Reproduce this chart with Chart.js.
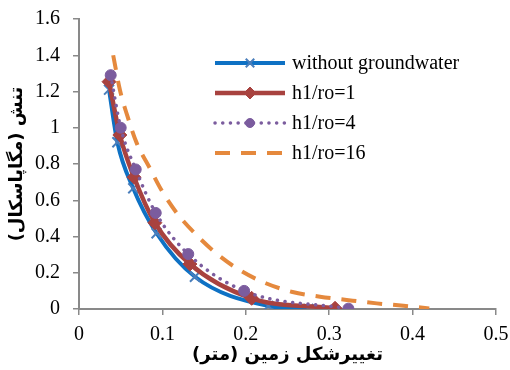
<!DOCTYPE html>
<html>
<head>
<meta charset="utf-8">
<script src="https://cdn.jsdelivr.net/npm/chart.js@4/dist/chart.umd.min.js"></script>
<style>
  body { margin: 0; background: #fff; }
  #wrap { width: 510px; height: 370px; }
</style>
</head>
<body>
<div id="wrap"><canvas id="stress-chart"></canvas></div>
<script>
// values (x = ground deformation in m, y = stress in MPa)
const seriesNames = ['without groundwater', 'h1/ro=1', 'h1/ro=4', 'h1/ro=16'];

const noWaterX = [0.036, 0.046, 0.065, 0.093, 0.139, 0.227, 0.275];
const noWaterY = [1.21, 0.92, 0.666, 0.418, 0.178, 0.017, 0.0];

const ratio1X = [0.036, 0.049, 0.066, 0.091, 0.133, 0.207, 0.307];
const ratio1Y = [1.254, 0.96, 0.727, 0.476, 0.248, 0.059, 0.004];

const ratio4X = [0.038, 0.050, 0.068, 0.092, 0.131, 0.198, 0.323];
const ratio4Y = [1.29, 1.0, 0.77, 0.53, 0.303, 0.10, 0.002];

const ratio16X = [0.041, 0.049, 0.058, 0.069, 0.085, 0.100, 0.119, 0.142, 0.167, 0.194, 0.224, 0.256, 0.289, 0.321, 0.357, 0.389, 0.42];
const ratio16Y = [1.40, 1.21, 1.065, 0.918, 0.776, 0.647, 0.519, 0.403, 0.298, 0.211, 0.142, 0.094, 0.068, 0.05, 0.031, 0.018, 0.003];

const xTitle = 'تغییرشکل زمین (متر)\u200F';
const yTitle = 'تنش (مگاپاسکال)\u200F';

function pairs(xs, ys) {
  return xs.map((x, i) => ({ x: x, y: ys[i] }));
}

// excel style labels: 1 not 1.0
const tickText = (v) => String(Math.round(v * 10) / 10);

const serif = "'Liberation Serif', 'Times New Roman', serif";
const axisGray = '#898989';

// legend drawn inside the plot, Excel style
const insideLegend = {
  id: 'insideLegend',
  afterDraw(chart) {
    const ctx = chart.ctx;
    const x0 = chart.chartArea.left + 136;
    const x1 = x0 + 70;
    chart.data.datasets.forEach((ds, i) => {
      const y = 63 + i * 30;
      ctx.save();
      ctx.strokeStyle = ds.borderColor;
      ctx.lineWidth = ds.borderWidth;
      ctx.lineCap = ds.borderCapStyle || 'butt';
      ctx.setLineDash(ds.borderDash || []);
      ctx.beginPath();
      ctx.moveTo(x0, y);
      ctx.lineTo(x1, y);
      ctx.stroke();
      ctx.setLineDash([]);
      if (ds.pointRadius > 0) {
        ctx.fillStyle = ds.pointBackgroundColor;
        ctx.strokeStyle = ds.pointBorderColor;
        ctx.lineWidth = ds.pointBorderWidth;
        Chart.helpers.drawPoint(ctx, {
          pointStyle: ds.pointStyle,
          radius: ds.pointRadius - 1,
          rotation: 0,
          borderWidth: ds.pointBorderWidth
        }, (x0 + x1) / 2, y);
      }
      ctx.fillStyle = '#000';
      ctx.font = '20px ' + serif;
      ctx.textBaseline = 'middle';
      ctx.textAlign = 'left';
      ctx.fillText(ds.label, x1 + 7, y + 1);
      ctx.restore();
    });
  }
};

const ctx = document.getElementById('stress-chart').getContext('2d');

new Chart(ctx, {
  type: 'scatter',
  data: {
    datasets: [
      {
        label: seriesNames[0],
        data: pairs(noWaterX, noWaterY),
        showLine: true,
        borderColor: '#0E71C4',
        borderWidth: 4,
        pointStyle: 'crossRot',
        pointRadius: 7,
        pointBorderColor: '#4A7EBB',
        pointBackgroundColor: '#4A7EBB',
        pointBorderWidth: 2,
        order: 4
      },
      {
        label: seriesNames[1],
        data: pairs(ratio1X, ratio1Y),
        showLine: true,
        borderColor: '#A8423F',
        borderWidth: 4.5,
        pointStyle: 'rectRot',
        pointRadius: 7,
        pointBorderColor: '#A8423F',
        pointBackgroundColor: '#A8423F',
        pointBorderWidth: 1,
        order: 3
      },
      {
        label: seriesNames[2],
        data: pairs(ratio4X, ratio4Y),
        showLine: true,
        borderColor: '#7B5C9E',
        borderWidth: 3.5,
        borderDash: [0.1, 7.6],
        borderCapStyle: 'round',
        pointStyle: 'circle',
        pointRadius: 5.5,
        pointBorderColor: '#7B5C9E',
        pointBackgroundColor: '#7B5C9E',
        pointBorderWidth: 1,
        order: 2
      },
      {
        label: seriesNames[3],
        data: pairs(ratio16X, ratio16Y),
        showLine: true,
        borderColor: '#E5893D',
        borderWidth: 4,
        borderDash: [15, 11],
        pointRadius: 0,
        order: 1
      }
    ]
  },
  options: {
    responsive: true,
    maintainAspectRatio: false,
    animation: false,
    cubicInterpolationMode: 'monotone',
    layout: { padding: { top: 19, right: 14, left: 0, bottom: 0 } },
    plugins: {
      legend: { display: false },
      tooltip: { enabled: false }
    },
    scales: {
      x: {
        type: 'linear',
        min: 0,
        max: 0.5,
        afterFit: (scale) => {
          scale.height = 61;
          scale.paddingLeft = 0;
          scale.paddingRight = 0;
        },
        ticks: { stepSize: 0.1, color: '#000', padding: 8, callback: tickText, font: { family: serif, size: 20 } },
        grid: { drawOnChartArea: false, drawTicks: true, tickLength: 6, color: axisGray, lineWidth: 1.5 },
        border: { color: axisGray, width: 2 },
        title: {
          display: true,
          text: xTitle,
          color: '#000',
          padding: { top: 0, bottom: 4 },
          font: { family: "'DejaVu Sans', sans-serif", size: 18, weight: 'bold' }
        }
      },
      y: {
        type: 'linear',
        min: 0,
        max: 1.6,
        afterFit: (scale) => {
          scale.width = 79;
          scale.paddingTop = 0;
          scale.paddingBottom = 0;
        },
        ticks: { stepSize: 0.2, color: '#000', padding: 13, callback: tickText, font: { family: serif, size: 20 } },
        grid: { drawOnChartArea: false, drawTicks: true, tickLength: 6, color: axisGray, lineWidth: 1.5 },
        border: { color: axisGray, width: 2 },
        title: {
          display: true,
          text: yTitle,
          color: '#000',
          padding: { top: 7, bottom: 0 },
          font: { family: "'DejaVu Sans', sans-serif", size: 18, weight: 'bold' }
        }
      }
    }
  },
  plugins: [insideLegend]
});
</script>
</body>
</html>
